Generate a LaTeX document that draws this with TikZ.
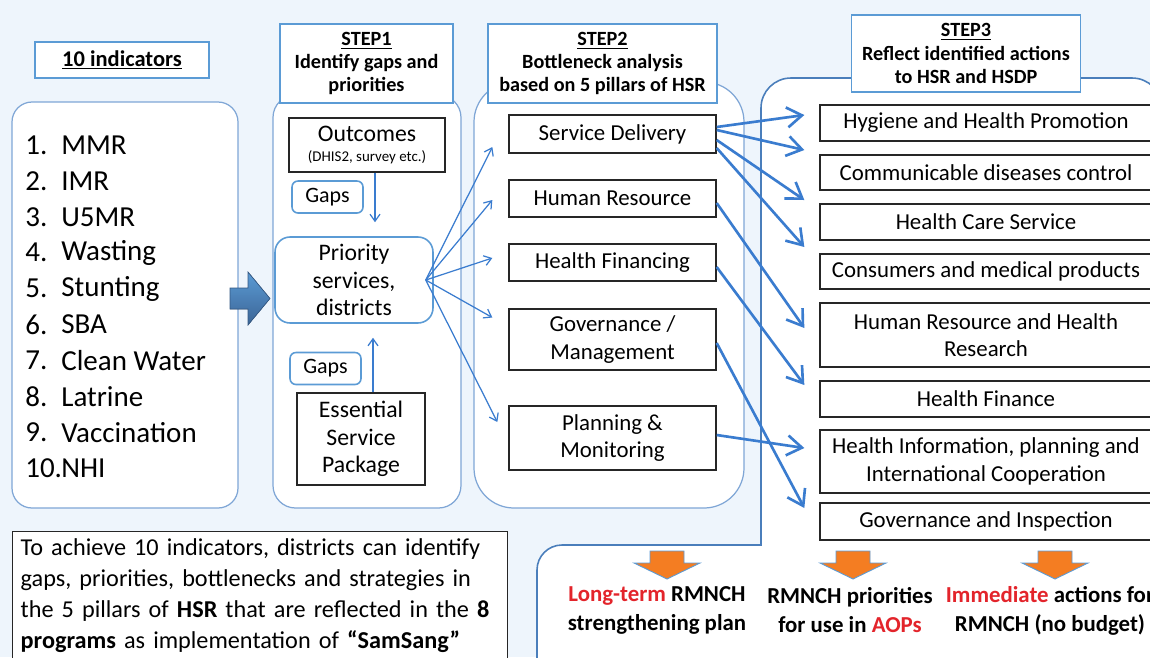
\documentclass[tikz,border=0pt]{standalone}
\usepackage{fontspec}
\setmainfont{Carlito}
\usetikzlibrary{arrows.meta, positioning, calc}
\definecolor{bgblue}{HTML}{EEF5FC}
\definecolor{hdrblue}{HTML}{5B9BD5}
\definecolor{contblue}{HTML}{7FA6D6}
\definecolor{frameblue}{HTML}{4A7EBB}
\definecolor{arrblue}{HTML}{3A7CCF}
\definecolor{outorange}{HTML}{F47D22}
\definecolor{txtred}{HTML}{E3242B}

\begin{document}
\begin{tikzpicture}[x=0.02cm, y=-0.02cm,
    hdr/.style={rectangle, draw=hdrblue, line width=0.9pt, fill=white, align=center, inner sep=0pt, font=\fontsize{11.5}{13.2}\selectfont\bfseries},
    cont/.style={draw=contblue, line width=0.7pt, fill=white},
    blk/.style={rectangle, draw=black!85, line width=0.8pt, fill=white, align=center, inner sep=0pt, minimum width=4.14cm, font=\fontsize{13}{15.5}\selectfont},
    act/.style={rectangle, draw=black!85, line width=0.8pt, fill=white, align=center, inner sep=0pt, minimum width=6.64cm, font=\fontsize{13}{15.5}\selectfont},
    gapbox/.style={rectangle, rounded corners=0.12cm, draw=hdrblue, line width=0.9pt, fill=white, minimum width=1.42cm, minimum height=0.64cm, inner sep=0pt, font=\fontsize{12.5}{15}\selectfont},
    thinarr/.style={draw=arrblue, line width=0.7pt, -{Straight Barb[length=0.14cm,width=0.2cm]}},
    thickarr/.style={draw=arrblue, line width=1.5pt, -{Straight Barb[length=0.3cm,width=0.4cm]}},
    outtxt/.style={align=center, font=\fontsize{13}{16.5}\selectfont\bfseries}
]
\useasboundingbox (0,0) rectangle (1150,657);
\clip (0,0) rectangle (1150,657);
\fill[bgblue] (0,0) rectangle (1150,657);

% Containers
\draw[cont, rounded corners=0.4cm] (12,102) rectangle (238,508);
\draw[cont, rounded corners=0.45cm] (273,95) rectangle (461,508);
\draw[cont, rounded corners=0.8cm] (474,82) rectangle (744,508);
\draw[draw=frameblue, line width=0.9pt, fill=white] (761,545) [rounded corners=0.6cm] -- (761,78) -- (1162,78) [sharp corners] -- (1162,700) -- (537,700) [rounded corners=0.5cm] -- (537,545) [sharp corners] -- cycle;

% Headers
\node[hdr, font=\fontsize{12.8}{14}\selectfont\bfseries, minimum width=3.48cm, minimum height=0.72cm] (indhdr) at (122,60) {\underline{10 indicators}};
\node[hdr, minimum width=3.46cm, minimum height=1.58cm] (s1hdr) at (366.5,63.5) {\underline{STEP1}\\Identify gaps and\\priorities};
\node[hdr, minimum width=4.58cm, minimum height=1.58cm] (s2hdr) at (602.5,63.5) {\underline{STEP2}\\Bottleneck analysis\\based on 5 pillars of HSR};
\node[hdr, minimum width=4.58cm, minimum height=1.54cm] (s3hdr) at (966,53.5) {\underline{STEP3}\\Reflect identified actions\\to HSR and HSDP};

% Indicators
\foreach \i/\t in {1/MMR, 2/IMR, 3/U5MR, 4/Wasting, 5/Stunting, 6/SBA, 7/Clean Water, 8/Latrine, 9/Vaccination, 10/NHI}{
  \node[anchor=west, inner sep=0pt, font=\fontsize{16.5}{19}\selectfont] (num\i) at (25,{145+35.9*(\i-1)}) {\i.};
  \node[anchor=west, inner sep=0pt, font=\fontsize{16.5}{19}\selectfont] (ind\i) at (61,{145+35.9*(\i-1)}) {\t};
}
\fill[top color=hdrblue, bottom color=frameblue!80!black, draw=frameblue!70!black, line width=0.4pt]
  (230,288) -- (248,288) -- (248,272) -- (270,298.5) -- (248,325) -- (248,309) -- (230,309) -- cycle;

% Step 1
\node[blk, minimum width=3.12cm, minimum height=1.08cm, font=\fontsize{13.5}{12.5}\selectfont] (outc) at (367,145) {Outcomes\\[-1pt]{\fontsize{8.5}{9}\selectfont (DHIS2, survey etc.)}};
\node[gapbox] (gaps1) at (327.5,197) {Gaps};
\node[rectangle, rounded corners=0.3cm, draw=hdrblue, line width=0.9pt, fill=white, minimum width=3.16cm, minimum height=1.72cm, align=center, inner sep=0pt, font=\fontsize{13.5}{15.5}\selectfont] (prio) at (354,280) {Priority\\services,\\districts};
\node[gapbox] (gaps2) at (325.5,368.5) {Gaps};
\node[blk, minimum width=2.56cm, minimum height=1.84cm, font=\fontsize{13.5}{15.5}\selectfont] (esp) at (361,439) {Essential\\Service\\Package};
\draw[thinarr, shorten >=0.28cm] ([xshift=0.16cm]outc.south) -- ([xshift=0.16cm]outc.south |- prio.north);
\draw[thinarr, shorten >=0.28cm] ([xshift=0.24cm]esp.north) -- ([xshift=0.24cm]esp.north |- prio.south);

% Step 2
\node[blk, minimum height=0.76cm] (sd) at (612.5,134) {Service Delivery};
\node[blk, minimum height=0.74cm] (hr) at (612.5,198.5) {Human Resource};
\node[blk, minimum height=0.74cm] (hf) at (612.5,262.5) {Health Financing};
\node[blk, minimum height=1.22cm] (gov) at (612.5,339.5) {Governance /\\Management};
\node[blk, minimum height=1.28cm] (pm) at (612.5,438) {Planning \&\\Monitoring};
\draw[thinarr] ([xshift=-0.16cm]prio.east) -- ([xshift=-0.32cm,yshift=-0.26cm]sd.west);
\draw[thinarr] ([xshift=-0.16cm]prio.east) -- ([xshift=-0.32cm,yshift=-0.03cm]hr.west);
\draw[thinarr] ([xshift=-0.16cm]prio.east) -- ([xshift=-0.32cm,yshift=0.09cm]hf.west);
\draw[thinarr] ([xshift=-0.16cm]prio.east) -- ([xshift=-0.32cm,yshift=0.44cm]gov.west);
\draw[thinarr] ([xshift=-0.16cm]prio.east) -- ([xshift=-0.22cm,yshift=0.32cm]pm.west);

% Step 3
\node[act, minimum height=0.72cm] (hyg) at (986,123) {Hygiene and Health Promotion};
\node[act, minimum height=0.70cm] (cdc) at (986,172.5) {Communicable diseases control};
\node[act, minimum height=0.72cm] (hcs) at (986,222) {Health Care Service};
\node[act, minimum height=0.70cm] (cmp) at (986,271.5) {Consumers and medical products};
\node[act, minimum height=1.28cm] (hrr) at (986,335) {Human Resource and Health\\Research};
\node[act, minimum height=0.72cm] (hfin) at (986,399) {Health Finance};
\node[act, minimum height=1.26cm] (hip) at (986,461.5) {Health Information, planning and\\International Cooperation};
\node[act, minimum height=0.74cm] (gi) at (986,521.5) {Governance and Inspection};
\draw[thickarr] ([yshift=0.14cm]sd.east) -- ([xshift=-0.3cm,yshift=0.16cm]hyg.west);
\draw[thickarr] ([yshift=0.08cm]sd.east) -- ([xshift=-0.3cm,yshift=0.45cm]cdc.west);
\draw[thickarr] ([yshift=-0.12cm]sd.east) -- ([xshift=-0.3cm,yshift=0.44cm]hcs.west);
\draw[thickarr] ([yshift=-0.28cm]sd.east) -- ([xshift=-0.3cm,yshift=0.49cm]cmp.west);
\draw[thickarr] ([yshift=-0.09cm]hr.east) -- ([xshift=-0.3cm,yshift=0.14cm]hrr.west);
\draw[thickarr] ([yshift=-0.09cm]hf.east) -- ([xshift=-0.3cm,yshift=0.28cm]hfin.west);
\draw[thickarr] ([yshift=0.06cm]pm.east) -- ([xshift=-0.3cm,yshift=0.27cm]hip.west);
\draw[thickarr] ([yshift=-0.07cm]gov.east) -- ([xshift=-0.3cm,yshift=0.27cm]gi.west);

% Outputs
\foreach \cx in {667,853,1055}
  \draw[fill=outorange, draw=hdrblue, line width=0.5pt] (\cx-17,551) -- (\cx+17,551) -- (\cx+17,563) -- (\cx+33,563) -- (\cx,579) -- (\cx-33,563) -- (\cx-17,563) -- cycle;
\node[outtxt] (out1) at (657,610.5) {\textcolor{txtred}{Long-term} RMNCH\\strengthening plan};
\node[outtxt] (out2) at (850,610.5) {RMNCH priorities\\for use in \textcolor{txtred}{AOPs}};
\node[outtxt] (out3) at (1050,610.5) {\textcolor{txtred}{Immediate} actions for\\RMNCH (no budget)};

% Note
\node[draw=black!85, line width=0.8pt, fill=white, anchor=north west, align=left, inner xsep=0.16cm, inner ysep=0.14cm, text width=9.58cm, font=\fontsize{13.8}{17.6}\selectfont] (note) at (12,531)
  {To achieve 10 indicators, districts can identify\\gaps, priorities, bottlenecks and strategies in\\the 5 pillars of \textbf{HSR} that are reflected in the \textbf{8}\\\textbf{programs} as implementation of \textbf{``SamSang''}};
\end{tikzpicture}
\end{document}
